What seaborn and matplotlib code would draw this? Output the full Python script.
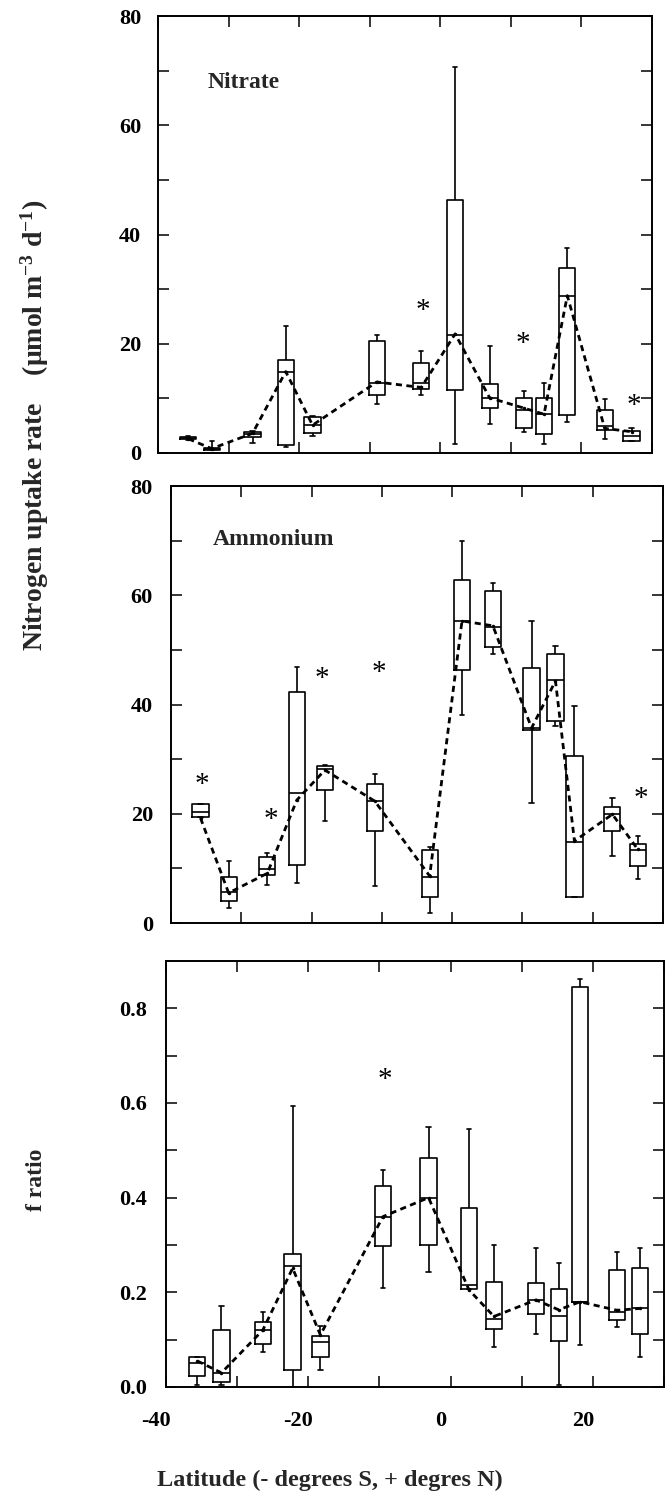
import numpy as np
import pandas as pd
import matplotlib
matplotlib.use("Agg")
import matplotlib.pyplot as plt
from matplotlib.transforms import ScaledTranslation
import seaborn as sns

# ---------------- data ----------------
lat_no3 = [-35.7, -32.4, -26.6, -21.9, -18.1, -9.0, -2.7, 2.1, 7.0, 11.9, 14.7, 18.0, 23.3, 27.1]
no3_lo = [2.4, 0.5, 1.9, 1.1, 3.1, 8.9, 10.7, 1.6, 5.4, 3.9, 1.6, 5.7, 2.5, 2.2]
no3_q1 = [2.5, 0.6, 2.9, 1.4, 3.6, 10.7, 11.8, 11.5, 8.3, 4.5, 3.4, 6.9, 4.3, 2.2]
no3_med = [2.8, 0.8, 3.4, 14.9, 5.1, 12.9, 12.9, 21.6, 10.1, 7.8, 7.1, 28.8, 5.0, 3.1]
no3_q3 = [3.0, 1.0, 3.9, 17.0, 6.5, 20.5, 16.5, 46.3, 12.7, 10.0, 10.0, 33.8, 7.9, 4.0]
no3_hi = [3.1, 2.2, 4.1, 23.2, 6.8, 21.6, 18.7, 70.6, 19.6, 11.3, 12.9, 37.5, 9.8, 4.6]
no3_mean = [2.6, 0.8, 3.6, 14.9, 5.1, 13.0, 12.0, 21.8, 10.1, 8.2, 7.1, 28.8, 4.5, 3.9]
no3_star_lat = [-2.4, 11.7, 27.4]
no3_star_val = [26.0, 19.9, 8.6]

lat_nh4 = [-35.8, -31.8, -26.3, -22.1, -18.1, -11.0, -3.2, 1.4, 5.8, 11.3, 14.7, 17.4, 22.8, 26.4]
nh4_lo = [19.4, 2.7, 7.0, 7.3, 18.6, 6.8, 1.8, 38.0, 49.2, 22.0, 36.0, 4.8, 12.2, 8.1]
nh4_q1 = [19.4, 4.1, 8.8, 10.6, 24.4, 16.9, 4.8, 46.3, 50.6, 35.4, 36.9, 4.8, 16.8, 10.5]
nh4_med = [20.3, 5.6, 9.9, 23.8, 28.2, 22.4, 8.5, 55.2, 54.2, 35.7, 44.5, 14.9, 19.9, 13.3]
nh4_q3 = [21.7, 8.5, 12.0, 42.3, 28.8, 25.5, 13.3, 62.8, 60.7, 46.6, 49.2, 30.5, 21.2, 14.5]
nh4_hi = [21.7, 11.4, 12.8, 46.9, 28.9, 27.3, 14.0, 70.0, 62.2, 55.3, 50.7, 39.7, 22.9, 16.0]
nh4_mean = [19.2, 5.5, 9.1, 22.5, 28.0, 22.3, 8.6, 55.3, 54.4, 35.7, 44.3, 15.0, 19.9, 13.5]
nh4_star_lat = [-35.6, -25.8, -18.6, -10.4, 26.8]
nh4_star_val = [25.3, 18.8, 44.6, 45.8, 22.7]

lat_f = [-35.6, -32.2, -26.4, -22.2, -18.3, -9.5, -3.1, 2.6, 6.1, 12.0, 15.2, 18.2, 23.4, 26.6]
f_lo = [0.004, 0.004, 0.073, 0.001, 0.036, 0.209, 0.242, 0.207, 0.085, 0.112, 0.004, 0.089, 0.126, 0.063]
f_q1 = [0.024, 0.011, 0.090, 0.036, 0.064, 0.297, 0.300, 0.207, 0.123, 0.154, 0.097, 0.180, 0.142, 0.112]
f_med = [0.050, 0.029, 0.120, 0.256, 0.096, 0.359, 0.399, 0.216, 0.143, 0.184, 0.151, 0.180, 0.159, 0.166]
f_q3 = [0.063, 0.120, 0.138, 0.281, 0.108, 0.425, 0.483, 0.379, 0.221, 0.219, 0.206, 0.845, 0.247, 0.252]
f_hi = [0.063, 0.171, 0.159, 0.594, 0.129, 0.459, 0.550, 0.545, 0.300, 0.293, 0.261, 0.863, 0.286, 0.293]
f_mean = [0.055, 0.030, 0.120, 0.251, 0.110, 0.360, 0.400, 0.205, 0.149, 0.184, 0.163, 0.180, 0.162, 0.166]
f_star_lat = [-9.2]
f_star_val = [0.649]

x_ticks = [-40, -30, -20, -10, 0, 10, 20, 30]
x_ticklabels = ["-40", "", "-20", "", "0", "", "20", ""]

# ---------------- style ----------------
sns.set_style("ticks")
plt.rcParams["font.family"] = ["Liberation Serif", "DejaVu Serif"]
plt.rcParams["font.weight"] = "bold"
plt.rcParams["mathtext.fontset"] = "custom"
plt.rcParams["mathtext.rm"] = "Liberation Serif:bold"
plt.rcParams["mathtext.it"] = "Liberation Serif:bold"
plt.rcParams["mathtext.bf"] = "Liberation Serif:bold"
plt.rcParams["axes.linewidth"] = 1.4
plt.rcParams["axes.edgecolor"] = "black"

W, H = 665, 1504
fig = plt.figure(figsize=(W / 100, H / 100), dpi=100)


def add_ax(left, right, top, bottom):
    return fig.add_axes([left / W, 1 - bottom / H, (right - left) / W, (bottom - top) / H])


BOX_DEG = 2.3
TICK_FS = 16


def panel(ax, lat, lo, q1, med, q3, hi, mean, star_lat, star_val):
    stats = np.column_stack([lo, q1, med, q3, hi])
    df = pd.DataFrame({"lat": np.repeat(lat, 5), "val": stats.ravel()})
    min_gap = np.min(np.diff(np.sort(np.asarray(lat))))
    sns.boxplot(data=df, x="lat", y="val", native_scale=True, fill=False,
                color="black", linewidth=1.2, whis=(0, 100),
                width=BOX_DEG / min_gap, ax=ax, showfliers=False)
    # shrink whisker caps
    for cont in ax.containers:
        caps = getattr(cont, "caps", None)
        if caps is None:
            continue
        for cap in caps:
            xd = np.asarray(cap.get_xdata(), dtype=float)
            c = xd.mean()
            cap.set_xdata([c - 0.3, c + 0.3])
    sns.lineplot(x=lat, y=mean, ax=ax, color="black", linewidth=2.0,
                 linestyle=(0, (2.2, 1.6)), marker="o", markersize=2.5,
                 markeredgewidth=0, zorder=5)
    for sx, sy in zip(star_lat, star_val):
        ax.text(sx, sy, "*", ha="center", va="center", fontsize=21,
                fontweight="normal", color="black")
    ax.set_xlim(-40, 30)
    ax.set_xlabel("")
    ax.set_ylabel("")
    ax.tick_params(direction="in", length=8, width=1.1, top=True, right=True,
                   labelsize=TICK_FS, colors="black")
    for s in ax.spines.values():
        s.set_visible(True)
        s.set_color("black")


# Panel 1: Nitrate
ax1 = add_ax(158, 652, 16, 453)
panel(ax1, lat_no3, no3_lo, no3_q1, no3_med, no3_q3, no3_hi, no3_mean,
      no3_star_lat, no3_star_val)
ax1.set_ylim(0, 80)
ax1.set_yticks(range(0, 81, 10))
ax1.set_yticklabels([str(v) if v % 20 == 0 else "" for v in range(0, 81, 10)])
ax1.set_xticks(x_ticks)
ax1.set_xticklabels([""] * len(x_ticks))
ax1.tick_params(axis="y", pad=12)
ax1.text(-33.0, 67.8, "Nitrate", fontsize=17, fontweight="bold", va="center")

# Panel 2: Ammonium
ax2 = add_ax(171, 663, 486, 923)
panel(ax2, lat_nh4, nh4_lo, nh4_q1, nh4_med, nh4_q3, nh4_hi, nh4_mean,
      nh4_star_lat, nh4_star_val)
ax2.set_ylim(0, 80)
ax2.set_yticks(range(0, 81, 10))
ax2.set_yticklabels([str(v) if v % 20 == 0 else "" for v in range(0, 81, 10)])
ax2.set_xticks(x_ticks)
ax2.set_xticklabels([""] * len(x_ticks))
ax2.tick_params(axis="y", pad=13)
ax2.text(-34.0, 70.2, "Ammonium", fontsize=17, fontweight="bold", va="center")

# Panel 3: f ratio
ax3 = add_ax(166, 664, 961, 1387)
panel(ax3, lat_f, f_lo, f_q1, f_med, f_q3, f_hi, f_mean, f_star_lat, f_star_val)
ax3.set_ylim(0, 0.9)
yt = [round(0.1 * i, 1) for i in range(0, 9)]
ax3.set_yticks(yt)
ax3.set_yticklabels([f"{v:.1f}" if i % 2 == 0 else "" for i, v in enumerate(yt)])
ax3.set_xticks(x_ticks)
ax3.set_xticklabels(x_ticklabels)
ax3.tick_params(axis="y", pad=14)
ax3.tick_params(axis="x", pad=17)
shift = ScaledTranslation(-10 / 100, 0, fig.dpi_scale_trans)
for lab in ax3.get_xticklabels():
    lab.set_transform(lab.get_transform() + shift)

# Axis titles
fig.text(35 / W, 1 - 425 / H, "Nitrogen uptake rate    (\u03bcmol m$^{-3}$ d$^{-1}$)",
         rotation=90, ha="center", va="center", fontsize=20, fontweight="bold")
fig.text(37 / W, 1 - 1180 / H, "f ratio", rotation=90, ha="center", va="center",
         fontsize=17, fontweight="bold")
fig.text(330 / W, 1 - 1480 / H, "Latitude (- degrees S, + degres N)",
         ha="center", va="center", fontsize=17.5, fontweight="bold")

fig.savefig("out.png", dpi=100, facecolor="white")
